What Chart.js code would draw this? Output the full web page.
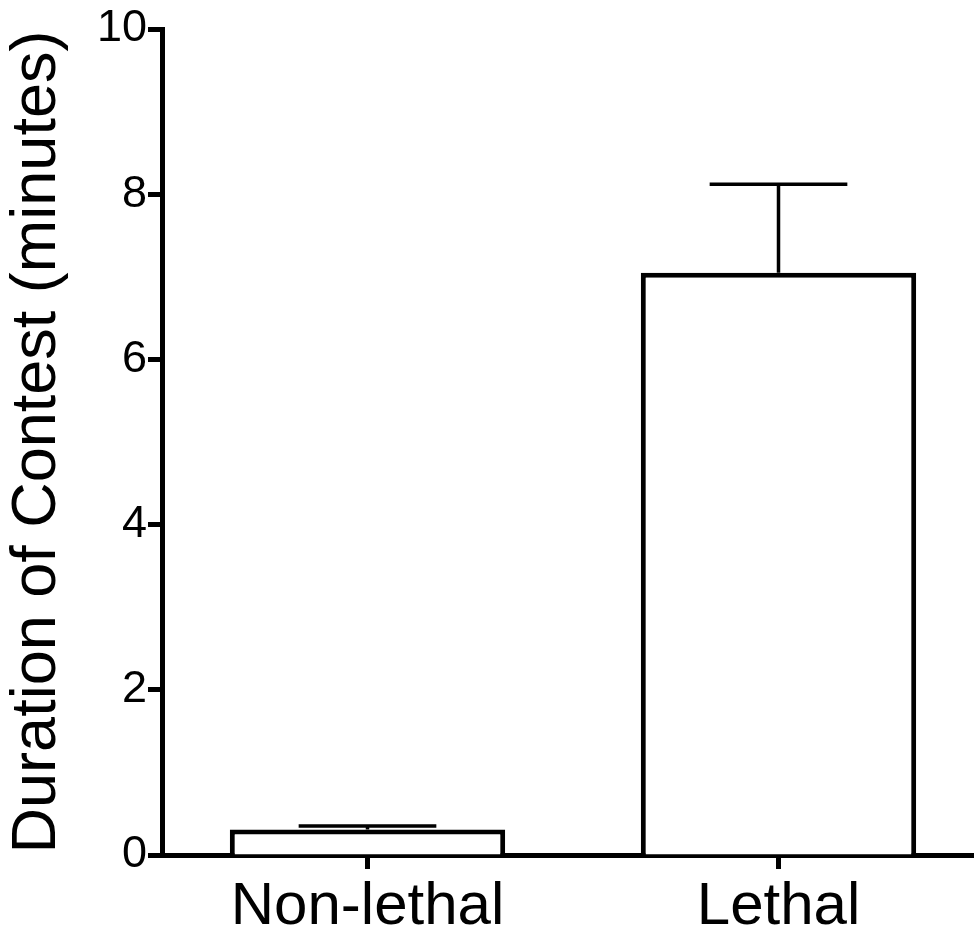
<!DOCTYPE html>
<html>
<head>
<meta charset="utf-8">
<script src="https://cdn.jsdelivr.net/npm/chart.js@4/dist/chart.umd.min.js"></script>
<style>
  html, body { margin: 0; padding: 0; background: #fff; overflow: hidden; }
  #wrap { width: 984px; height: 941px; }
</style>
</head>
<body>
<div id="wrap"><canvas id="durationChart" width="984" height="941"></canvas></div>
<script>
const categories = ["Non-lethal", "Lethal"];
const meanDuration = [0.31, 7.05];
const errDuration = [0.04, 1.07];
const yTicks = [0, 2, 4, 6, 8, 10];

const errorBars = {
  id: "errorBars",
  afterDatasetsDraw(chart) {
    let ctx = chart.ctx;
    let yScale = chart.scales.y;
    let meta = chart.getDatasetMeta(0);
    ctx.save();
    ctx.strokeStyle = "#000";
    ctx.lineWidth = 3.5;
    ctx.lineCap = "butt";
    meta.data.forEach((bar, i) => {
      let top = yScale.getPixelForValue(meanDuration[i] + errDuration[i]);
      let half = bar.width * 0.25;
      ctx.beginPath();
      ctx.moveTo(bar.x, bar.y);
      ctx.lineTo(bar.x, top);
      ctx.moveTo(bar.x - half, top);
      ctx.lineTo(bar.x + half, top);
      ctx.stroke();
    });
    ctx.restore();
  },
};

function renderChart() {
  let ctx = document.getElementById("durationChart");
  Chart.defaults.font.family = "'Liberation Sans', Arial, sans-serif";
  Chart.defaults.color = "#000";

  return new Chart(ctx, {
    type: "bar",
    data: {
      labels: categories,
      datasets: [
        {
          data: meanDuration,
          backgroundColor: "#fff",
          borderColor: "#000",
          borderWidth: 5,
          categoryPercentage: 1,
          barPercentage: 0.67,
        },
      ],
    },
    options: {
      responsive: false,
      animation: false,
      layout: { padding: { top: 29, right: 0, left: 0, bottom: 0 } },
      scales: {
        x: {
          grid: {
            offset: false,
            drawOnChartArea: false,
            drawTicks: true,
            tickLength: 14,
            tickWidth: 5,
            color: "#000",
          },
          border: { display: true, color: "#000", width: 5 },
          ticks: { font: { size: 60 }, padding: 2, color: "#000" },
          afterFit(scale) {
            scale.height = 86;
          },
        },
        y: {
          min: 0,
          max: 10,
          afterBuildTicks(scale) {
            scale.ticks = yTicks.map((v) => ({ value: v }));
          },
          grid: {
            drawOnChartArea: false,
            drawTicks: true,
            tickLength: 14,
            tickWidth: 5,
            color: "#000",
          },
          border: { display: true, color: "#000", width: 5 },
          ticks: { font: { size: 45 }, padding: 1, color: "#000" },
          title: {
            display: true,
            text: "Duration of Contest (minutes)",
            font: { size: 63 },
            color: "#000",
            padding: { top: 0, bottom: 0 },
          },
          afterFit(scale) {
            scale.width = 162;
          },
        },
      },
      plugins: {
        legend: { display: false },
        tooltip: { enabled: false },
      },
    },
    plugins: [errorBars],
  });
}

renderChart();
</script>
</body>
</html>
